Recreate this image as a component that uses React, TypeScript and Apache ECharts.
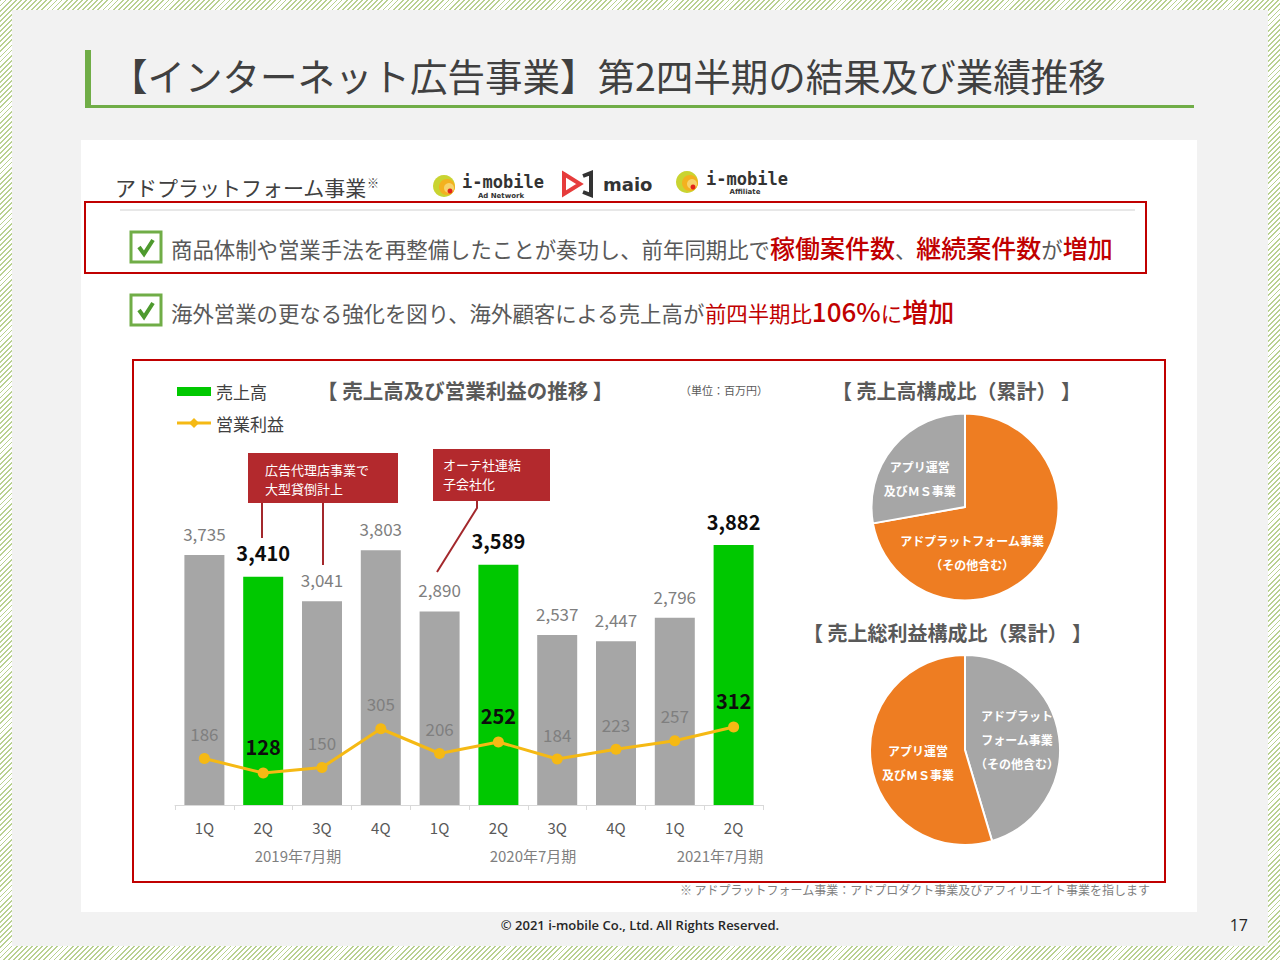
import React, { useEffect, useRef } from 'react';
import * as echarts from 'echarts';

const quarters = ['1Q', '2Q', '3Q', '4Q', '1Q', '2Q', '3Q', '4Q', '1Q', '2Q'];
const sales = [3735, 3410, 3041, 3803, 2890, 3589, 2537, 2447, 2796, 3882];
const operatingIncome = [186, 128, 150, 305, 206, 252, 184, 223, 257, 312];
const highlightQuarter = '2Q';
const fiscalPeriods = ['2019年7月期', '2020年7月期', '2021年7月期'];
const salesMixNames = ['アドプラットフォーム事業\n（その他含む）', 'アプリ運営\n及びＭＳ事業'];
const salesMixValues = [72.2, 27.8];
const grossMixNames = ['アドプラット\nフォーム事業\n（その他含む）', 'アプリ運営\n及びＭＳ事業'];
const grossMixValues = [45.4, 54.6];

const JP = "'Noto Sans CJK JP', 'Noto Sans', sans-serif";
const GREEN = '#00c800';
const GREY = '#a6a6a6';
const ORANGE = '#ee7d22';
const YELLOW = '#f5b914';
const RED = '#c00000';
const SLIDE_GREEN = '#70ad47';

function txt(x: number, y: number, text: string, o: any = {}) {
  const align = o.align || 'left';
  const va = o.va || 'middle';
  return {
    type: 'text',
    z: o.z ?? 5,
    style: {
      x, y, text,
      fill: o.fill || '#404040',
      fontSize: o.size || 14,
      fontWeight: o.weight || 'normal',
      fontFamily: o.family || JP,
      align, textAlign: align,
      verticalAlign: va, textVerticalAlign: va,
      lineHeight: o.lineHeight,
      rich: o.rich,
    },
  };
}

function checkbox(x: number, y: number) {
  return [
    { type: 'rect', z: 5, shape: { x, y, width: 30, height: 30 }, style: { fill: '#fff', stroke: SLIDE_GREEN, lineWidth: 3 } },
    { type: 'polyline', z: 6, shape: { points: [[x + 8, y + 15], [x + 13, y + 22], [x + 22, y + 8]] }, style: { fill: 'none', stroke: '#4e9a2e', lineWidth: 4 } },
  ];
}

function imobileIcon(cx: number, cy: number) {
  return [
    { type: 'circle', z: 5, shape: { cx, cy, r: 11 }, style: { fill: '#c9d431' } },
    { type: 'circle', z: 6, shape: { cx: cx + 3, cy: cy + 1, r: 8 }, style: { fill: '#f3b11f' } },
    { type: 'circle', z: 7, shape: { cx: cx + 5, cy: cy + 2, r: 5 }, style: { fill: '#f6d36b' } },
    { type: 'circle', z: 8, shape: { cx: cx + 6, cy: cy + 5, r: 2.5 }, style: { fill: '#e2231a' } },
  ];
}

export default function App() {
  const ref = useRef<HTMLDivElement>(null);
  useEffect(() => {
    if (!ref.current) return;
    const chart = echarts.init(ref.current, null, { renderer: 'svg' });

    const barData = sales.map((v, i) => {
      const hi = quarters[i] === highlightQuarter;
      return {
        value: v,
        itemStyle: { color: hi ? GREEN : GREY },
        label: hi
          ? { color: '#0d0d0d', fontSize: 20, fontWeight: 'bold', distance: 14 }
          : { color: '#7f7f7f', fontSize: 17, fontWeight: 'normal', distance: 13 },
      };
    });
    const lineData = operatingIncome.map((v, i) => {
      const hi = quarters[i] === highlightQuarter;
      return {
        value: v,
        label: hi
          ? { color: '#0d0d0d', fontSize: 20, fontWeight: 'bold' }
          : { color: '#7f7f7f', fontSize: 17, fontWeight: 'normal' },
      };
    });

    const periodX = [298, 533, 720];

    const elements: any[] = [
      { type: 'rect', z: 0, shape: { x: 12, y: 10, width: 1256, height: 936 }, style: { fill: '#f2f2f2' } },
      { type: 'rect', z: 1, shape: { x: 85, y: 50, width: 6, height: 58 }, style: { fill: SLIDE_GREEN } },
      { type: 'rect', z: 1, shape: { x: 85, y: 105, width: 1109, height: 3 }, style: { fill: SLIDE_GREEN } },
      txt(110, 74, '【インターネット広告事業】第2四半期の結果及び業績推移', { size: 37.5, fill: '#404040' }),
      { type: 'rect', z: 1, shape: { x: 81, y: 140, width: 1116, height: 772 }, style: { fill: '#ffffff' } },
      txt(115, 187, '{a|アドプラットフォーム事業}{s|※}', {
        rich: {
          a: { fontSize: 21, fill: '#404040', fontFamily: JP, verticalAlign: 'bottom' },
          s: { fontSize: 12, fill: '#404040', fontFamily: JP, verticalAlign: 'top' },
        },
      }),
      ...imobileIcon(444, 186),
      txt(462, 182, 'i-mobile', { size: 17, weight: 'bold', family: "'DejaVu Sans Mono', monospace", fill: '#333' }),
      txt(501, 196, 'Ad Network', { size: 7, weight: 'bold', family: "'DejaVu Sans', sans-serif", fill: '#333', align: 'center' }),
      { type: 'polygon', z: 5, shape: { points: [[564, 174], [580, 184], [564, 194]] }, style: { fill: 'none', stroke: '#e63c3c', lineWidth: 4 } },
      { type: 'polyline', z: 5, shape: { points: [[583, 176], [591, 173], [591, 195], [583, 192]] }, style: { fill: 'none', stroke: '#333', lineWidth: 4 } },
      txt(603, 184, 'maio', { size: 18, weight: 'bold', family: "'DejaVu Sans', sans-serif", fill: '#333' }),
      ...imobileIcon(687, 182),
      txt(706, 179, 'i-mobile', { size: 17, weight: 'bold', family: "'DejaVu Sans Mono', monospace", fill: '#333' }),
      txt(745, 192, 'Affiliate', { size: 7, weight: 'bold', family: "'DejaVu Sans', sans-serif", fill: '#333', align: 'center' }),
      { type: 'line', z: 3, shape: { x1: 120, y1: 210, x2: 1135, y2: 210 }, style: { stroke: '#d0d0d0', lineWidth: 1 } },
      { type: 'rect', z: 4, shape: { x: 85, y: 202, width: 1061, height: 71 }, style: { fill: 'none', stroke: RED, lineWidth: 2 } },
      ...checkbox(131, 232),
      txt(171, 247, '{g|商品体制や営業手法を再整備したことが奏功し、前年同期比で}{r|稼働案件数}{g|、}{r|継続案件数}{g|が}{r|増加}', {
        rich: {
          g: { fontSize: 21.4, fill: '#595959', fontFamily: JP, verticalAlign: 'bottom' },
          r: { fontSize: 25, fill: RED, fontFamily: JP, fontWeight: 500, verticalAlign: 'bottom' },
        },
      }),
      ...checkbox(131, 295),
      txt(171, 310, '{g|海外営業の更なる強化を図り、海外顧客による売上高が}{m|前四半期比}{r|106%}{m|に}{r|増加}', {
        rich: {
          g: { fontSize: 21.4, fill: '#595959', fontFamily: JP, verticalAlign: 'bottom' },
          m: { fontSize: 21.4, fill: RED, fontFamily: JP, verticalAlign: 'bottom' },
          r: { fontSize: 26, fill: RED, fontFamily: JP, fontWeight: 500, verticalAlign: 'bottom' },
        },
      }),
      { type: 'rect', z: 4, shape: { x: 133, y: 360, width: 1032, height: 522 }, style: { fill: 'none', stroke: RED, lineWidth: 2 } },
      // legend
      { type: 'rect', z: 5, shape: { x: 177, y: 387, width: 34, height: 9 }, style: { fill: GREEN } },
      txt(216, 391, '売上高', { size: 17, fill: '#404040' }),
      { type: 'line', z: 5, shape: { x1: 177, y1: 423, x2: 211, y2: 423 }, style: { stroke: YELLOW, lineWidth: 3 } },
      { type: 'polygon', z: 6, shape: { points: [[194, 418], [199, 423], [194, 428], [189, 423]] }, style: { fill: YELLOW } },
      txt(216, 423, '営業利益', { size: 17, fill: '#404040' }),
      txt(317, 390, '【 売上高及び営業利益の推移 】', { size: 20.5, weight: 'bold', fill: '#595959' }),
      txt(680, 390, '（単位：百万円）', { size: 11, fill: '#595959' }),
      // callouts
      { type: 'rect', z: 5, shape: { x: 248, y: 453, width: 150, height: 50 }, style: { fill: '#b3292d' } },
      txt(265, 469, '広告代理店事業で', { size: 13, fill: '#ffffff' }),
      txt(265, 488, '大型貸倒計上', { size: 13, fill: '#ffffff' }),
      { type: 'line', z: 5, shape: { x1: 262, y1: 503, x2: 262, y2: 538 }, style: { stroke: '#a3282c', lineWidth: 2 } },
      { type: 'line', z: 5, shape: { x1: 323, y1: 503, x2: 323, y2: 565 }, style: { stroke: '#a3282c', lineWidth: 2 } },
      { type: 'rect', z: 5, shape: { x: 433, y: 449, width: 117, height: 52 }, style: { fill: '#b3292d' } },
      txt(443, 464, 'オーテ社連結', { size: 13, fill: '#ffffff' }),
      txt(443, 483, '子会社化', { size: 13, fill: '#ffffff' }),
      { type: 'polyline', z: 5, shape: { points: [[477, 501], [477, 508], [437, 572]] }, style: { fill: 'none', stroke: '#a3282c', lineWidth: 2 } },
      // fiscal periods
      ...fiscalPeriods.map((p, i) => txt(periodX[i], 855, p, { size: 15, fill: '#7f7f7f', align: 'center' })),
      // pie titles
      txt(832, 390, '【 売上高構成比（累計） 】', { size: 20, weight: 'bold', fill: '#595959' }),
      txt(803, 632, '【 売上総利益構成比（累計） 】', { size: 20, weight: 'bold', fill: '#595959' }),
      // footnote/footer
      txt(1150, 889, '※ アドプラットフォーム事業：アドプロダクト事業及びアフィリエイト事業を指します', { size: 12, fill: '#7f7f7f', align: 'right' }),
      txt(640, 925, '© 2021 i-mobile Co., Ltd. All Rights Reserved.', { size: 13, weight: 600, family: "'Open Sans', sans-serif", fill: '#262626', align: 'center' }),
      txt(1248, 925, '17', { size: 16, family: "'Open Sans', sans-serif", fill: '#262626', align: 'right' }),
    ];

    const pieLabel = { show: true, position: 'inside', color: '#fff', fontSize: 12, fontWeight: 'bold', lineHeight: 24, fontFamily: JP, formatter: '{b}' };
    const pie1Offsets = [[-31, 14], [-7, 3]];
    const pie2Offsets = [[2, -3], [3, 5]];

    const option: any = {
      animation: false,
      backgroundColor: 'transparent',
      textStyle: { fontFamily: JP },
      graphic: { elements },
      grid: { left: 175, top: 505, width: 588, height: 300, containLabel: false },
      xAxis: {
        type: 'category',
        data: quarters,
        z: 10,
        axisLine: { lineStyle: { color: '#d9d9d9', width: 1 } },
        axisTick: { show: true, length: 5, lineStyle: { color: '#d9d9d9' } },
        axisLabel: { color: '#595959', fontSize: 15, margin: 15, fontFamily: JP },
        splitLine: { show: false },
      },
      yAxis: [
        { type: 'value', min: 0, max: 4480, show: false, splitLine: { show: false } },
        { type: 'value', min: 0, max: 1200, show: false, splitLine: { show: false } },
      ],
      series: [
        {
          name: '売上高',
          type: 'bar',
          data: barData,
          barWidth: 40,
          z: 2,
          label: { show: true, position: 'top', distance: 13, fontFamily: JP, formatter: (p: any) => Number(p.value).toLocaleString('en-US') },
          emphasis: { disabled: true },
        },
        {
          name: '営業利益',
          type: 'line',
          yAxisIndex: 1,
          data: lineData,
          z: 3,
          symbol: 'circle',
          symbolSize: 11,
          itemStyle: { color: YELLOW },
          lineStyle: { color: YELLOW, width: 3 },
          label: { show: true, position: 'top', distance: 11, fontFamily: JP },
          emphasis: { disabled: true },
        },
        {
          name: '売上高構成比',
          type: 'pie',
          center: [965, 507],
          radius: 93.5,
          startAngle: 90,
          clockwise: true,
          data: salesMixNames.map((n, i) => ({ name: n, value: salesMixValues[i], itemStyle: { color: i === 0 ? ORANGE : GREY } })),
          itemStyle: { borderColor: '#fff', borderWidth: 2 },
          label: pieLabel,
          labelLine: { show: false },
          labelLayout: (p: any) => ({ dx: pie1Offsets[p.dataIndex][0], dy: pie1Offsets[p.dataIndex][1] }),
          emphasis: { disabled: true },
        },
        {
          name: '売上総利益構成比',
          type: 'pie',
          center: [965, 750],
          radius: 95,
          startAngle: 90,
          clockwise: true,
          data: grossMixNames.map((n, i) => ({ name: n, value: grossMixValues[i], itemStyle: { color: i === 0 ? GREY : ORANGE } })),
          itemStyle: { borderColor: '#fff', borderWidth: 2 },
          label: pieLabel,
          labelLine: { show: false },
          labelLayout: (p: any) => ({ dx: pie2Offsets[p.dataIndex][0], dy: pie2Offsets[p.dataIndex][1] }),
          emphasis: { disabled: true },
        },
      ],
    };
    chart.setOption(option);
    return () => chart.dispose();
  }, []);

  return (
    <div
      style={{
        position: 'fixed', left: 0, top: 0, width: 1280, height: 960,
        background: 'repeating-linear-gradient(135deg, #b9d191 0px, #b9d191 1.3px, #ffffff 1.3px, #ffffff 3.6px)',
      }}
    >
      <div ref={ref} style={{ width: 1280, height: 960 }} />
    </div>
  );
}
